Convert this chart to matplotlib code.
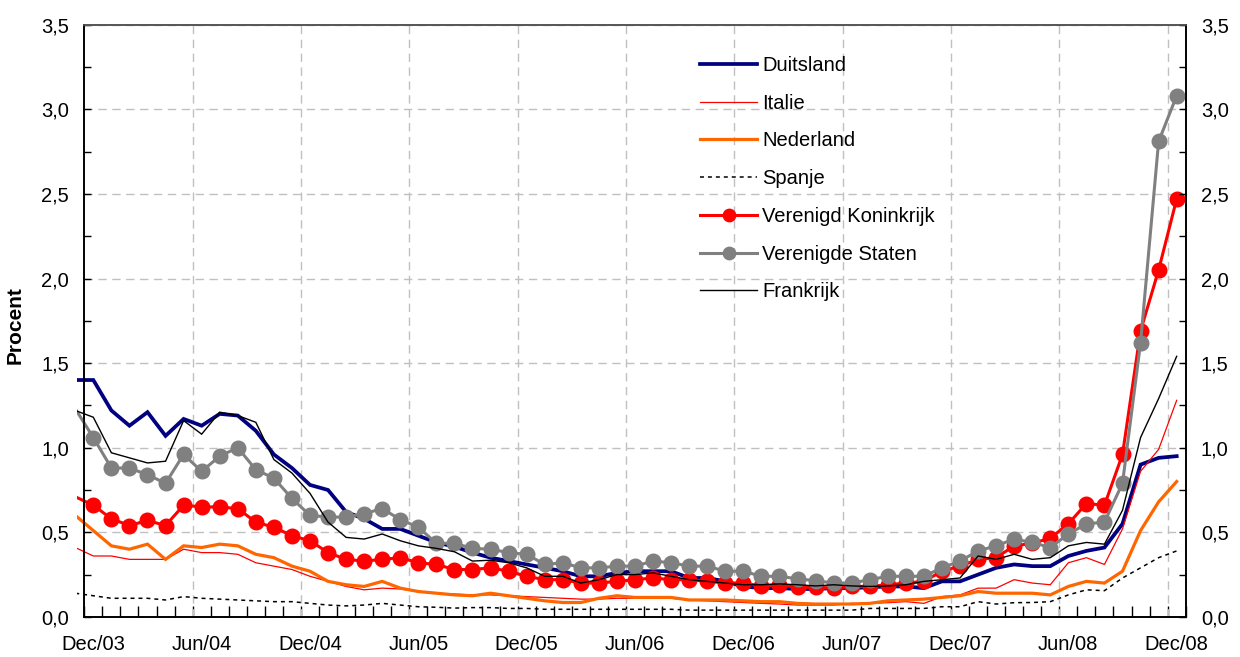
import matplotlib
matplotlib.use("Agg")
import matplotlib.pyplot as plt
from matplotlib.patches import Rectangle
from matplotlib.ticker import FixedLocator, FuncFormatter, MultipleLocator
import numpy as np

plt.rcParams['font.family'] = ['Liberation Sans', 'DejaVu Sans']

# Months: Nov/03 (partly outside the axis), Dec/03 ... Dec/08
months = (["Nov/03"] +
          [f"{m}/{y:02d}" for y in range(3, 9) for m in
           ["Jan", "Feb", "Mar", "Apr", "May", "Jun", "Jul", "Aug", "Sep", "Oct", "Nov", "Dec"]][11:])
tick_labels = ["Dec/03", "Jun/04", "Dec/04", "Jun/05", "Dec/05", "Jun/06",
               "Dec/06", "Jun/07", "Dec/07", "Jun/08", "Dec/08"]

duitsland = [1.40, 1.40, 1.22, 1.13, 1.21, 1.07, 1.17, 1.13, 1.20, 1.19, 1.10, 0.96, 0.88,
             0.78, 0.75, 0.62, 0.58, 0.52, 0.52, 0.48, 0.44, 0.415, 0.38, 0.35, 0.33, 0.31,
             0.29, 0.27, 0.24, 0.24, 0.26, 0.27, 0.27, 0.27, 0.23, 0.23, 0.21, 0.18, 0.17,
             0.17, 0.165, 0.165, 0.17, 0.17, 0.175, 0.18, 0.18, 0.17, 0.21, 0.21, 0.25, 0.29,
             0.31, 0.30, 0.30, 0.36, 0.39, 0.41, 0.55, 0.90, 0.94, 0.95]
italie = [0.41, 0.36, 0.36, 0.34, 0.34, 0.34, 0.40, 0.38, 0.38, 0.37, 0.32, 0.30, 0.28,
          0.24, 0.21, 0.18, 0.16, 0.17, 0.165, 0.15, 0.14, 0.135, 0.13, 0.13, 0.125, 0.12,
          0.115, 0.11, 0.105, 0.105, 0.11, 0.11, 0.11, 0.11, 0.10, 0.095, 0.09, 0.085, 0.08,
          0.076, 0.07, 0.07, 0.07, 0.08, 0.08, 0.084, 0.09, 0.08, 0.12, 0.13, 0.17, 0.17,
          0.22, 0.20, 0.19, 0.32, 0.35, 0.31, 0.52, 0.86, 0.99, 1.28]
nederland = [0.60, 0.51, 0.42, 0.40, 0.43, 0.34, 0.42, 0.41, 0.43, 0.42, 0.37, 0.35, 0.30,
             0.27, 0.21, 0.19, 0.18, 0.21, 0.17, 0.15, 0.14, 0.13, 0.125, 0.14, 0.125, 0.11,
             0.095, 0.085, 0.085, 0.11, 0.125, 0.115, 0.115, 0.115, 0.10, 0.10, 0.10, 0.095,
             0.09, 0.09, 0.08, 0.076, 0.076, 0.076, 0.08, 0.095, 0.10, 0.105, 0.115, 0.125,
             0.15, 0.14, 0.14, 0.14, 0.13, 0.18, 0.21, 0.20, 0.27, 0.51, 0.68, 0.80]
spanje = [0.14, 0.125, 0.11, 0.11, 0.11, 0.10, 0.12, 0.11, 0.105, 0.10, 0.095, 0.09, 0.09,
          0.08, 0.07, 0.065, 0.07, 0.08, 0.07, 0.06, 0.057, 0.052, 0.055, 0.055, 0.05, 0.05,
          0.045, 0.045, 0.045, 0.045, 0.045, 0.045, 0.045, 0.045, 0.04, 0.04, 0.04, 0.04,
          0.04, 0.04, 0.04, 0.04, 0.04, 0.04, 0.05, 0.05, 0.05, 0.05, 0.06, 0.06, 0.09,
          0.076, 0.084, 0.085, 0.09, 0.13, 0.16, 0.155, 0.23, 0.29, 0.35, 0.39]
vk = [0.71, 0.66, 0.58, 0.54, 0.57, 0.54, 0.66, 0.65, 0.65, 0.64, 0.56, 0.53, 0.48, 0.45,
      0.38, 0.34, 0.33, 0.34, 0.35, 0.32, 0.31, 0.28, 0.28, 0.29, 0.27, 0.24, 0.22, 0.22,
      0.20, 0.20, 0.21, 0.22, 0.23, 0.22, 0.22, 0.21, 0.20, 0.20, 0.183, 0.19, 0.175, 0.175,
      0.17, 0.18, 0.18, 0.19, 0.20, 0.21, 0.27, 0.30, 0.34, 0.35, 0.42, 0.435, 0.465, 0.55,
      0.67, 0.66, 0.96, 1.69, 2.05, 2.47]
vs = [1.23, 1.06, 0.88, 0.88, 0.84, 0.79, 0.96, 0.86, 0.95, 1.00, 0.87, 0.82, 0.70, 0.60,
      0.59, 0.59, 0.61, 0.64, 0.575, 0.53, 0.435, 0.435, 0.405, 0.40, 0.38, 0.37, 0.31, 0.32,
      0.29, 0.29, 0.30, 0.30, 0.33, 0.32, 0.30, 0.30, 0.27, 0.27, 0.24, 0.24, 0.225, 0.214,
      0.20, 0.20, 0.22, 0.24, 0.24, 0.24, 0.29, 0.33, 0.39, 0.42, 0.46, 0.44, 0.41, 0.49,
      0.55, 0.56, 0.79, 1.62, 2.81, 3.08]
frankrijk = [1.22, 1.18, 0.97, 0.94, 0.91, 0.92, 1.16, 1.08, 1.21, 1.19, 1.15, 0.93, 0.85,
             0.73, 0.56, 0.47, 0.46, 0.49, 0.45, 0.42, 0.405, 0.385, 0.33, 0.335, 0.32, 0.29,
             0.24, 0.24, 0.20, 0.22, 0.25, 0.25, 0.26, 0.24, 0.22, 0.21, 0.20, 0.19, 0.19,
             0.195, 0.19, 0.183, 0.19, 0.183, 0.18, 0.183, 0.19, 0.21, 0.22, 0.23, 0.36, 0.34,
             0.37, 0.34, 0.35, 0.42, 0.44, 0.43, 0.63, 1.06, 1.29, 1.54]

W, H = 1240, 657
FS = 14.5
fig = plt.figure(figsize=(W / 100, H / 100), dpi=100)
ax = fig.add_axes([84.3 / W, 1 - 616.9 / H, (1185.7 - 84.3) / W, (616.9 - 24.7) / H])

x = np.arange(len(months)) - 1  # Nov/03 at -1, Dec/03 at 0

series = [
    ("Duitsland", duitsland, dict(color="#000080", lw=2.7)),
    ("Italie", italie, dict(color="#FF0000", lw=0.9)),
    ("Nederland", nederland, dict(color="#FF6600", lw=2.3)),
    ("Spanje", spanje, dict(color="black", lw=1.1, dashes=(2.6, 2.6))),
    ("Verenigd Koninkrijk", vk, dict(color="#FF0000", lw=2.2, marker="o", ms=10.5,
                                     markevery=list(range(1, len(months))))),
    ("Verenigde Staten", vs, dict(color="#808080", lw=2.2, marker="o", ms=10.5,
                                  markevery=list(range(1, len(months))))),
    ("Frankrijk", frankrijk, dict(color="black", lw=1.0)),
]

clip = Rectangle((-0.9, -0.2), 61.5, 3.9, transform=ax.transData)
for i, (name, vals, kw) in enumerate(series):
    ln, = ax.plot(x, vals, label=name, zorder=3 + i, solid_joinstyle="miter", **kw)
    ln.set_clip_path(clip)

ax.set_xlim(-0.5, 60.5)
ax.set_ylim(0, 3.5)

# x axis: labels at category centers every 6 months, ticks at boundaries
label_pos = list(range(0, 61, 6))
ax.xaxis.set_major_locator(FixedLocator(label_pos))
ax.set_xticklabels(tick_labels)
ax.xaxis.set_minor_locator(FixedLocator(np.arange(-0.5, 61, 1.0)))
ax.tick_params(axis="x", which="major", length=0, pad=13, labelsize=FS)
ax.tick_params(axis="x", which="minor", length=8, direction="in", width=1)

for b in np.arange(5.5, 60, 6):
    ax.axvline(b, color="#C0C0C0", lw=1, dashes=(6, 4), zorder=1)

fmt = FuncFormatter(lambda v, p: f"{v:.1f}".replace(".", ","))
ax.yaxis.set_major_locator(MultipleLocator(0.5))
ax.yaxis.set_minor_locator(MultipleLocator(0.25))
ax.yaxis.set_major_formatter(fmt)
ax.tick_params(axis="y", which="both", direction="in", length=5, width=1, labelsize=FS, pad=11)
ax.yaxis.grid(True, which="major", color="#C0C0C0", lw=1, dashes=(6, 4), zorder=1)
ax.set_axisbelow(True)

ax2 = ax.twinx()
ax2.set_ylim(ax.get_ylim())
ax2.yaxis.set_major_locator(MultipleLocator(0.5))
ax2.yaxis.set_minor_locator(MultipleLocator(0.25))
ax2.yaxis.set_major_formatter(fmt)
ax2.tick_params(axis="y", which="both", direction="in", length=5, width=1, labelsize=FS, pad=11)

for a in (ax, ax2):
    for s in a.spines.values():
        s.set_linewidth(1.2)
        s.set_color("black")
    a.spines["top"].set_color("#555555")

ax.set_ylabel("Procent", fontsize=15, fontweight="bold")
ax.yaxis.set_label_coords(-0.054, 0.493)

leg = ax.legend(loc="upper left", bbox_to_anchor=(700 / W, 1 - 56 / H),
                bbox_transform=fig.transFigure, frameon=False, fontsize=FS,
                handlelength=2.84, handletextpad=0.25, labelspacing=0.93,
                borderpad=0, borderaxespad=0, markerscale=0.85)
leg.set_zorder(20)

fig.savefig("out.png", dpi=100)
